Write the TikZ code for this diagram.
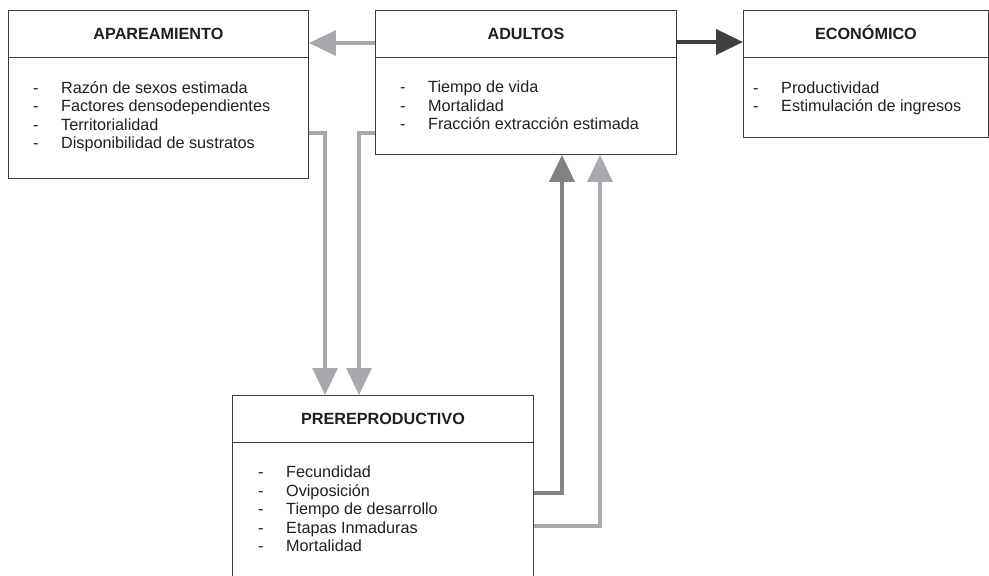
\documentclass[tikz,border=0pt]{standalone}
\usepackage{fontspec}
\setmainfont{Liberation Sans}
\usetikzlibrary{arrows.meta}
\definecolor{boxline}{HTML}{3C3C3C}
\definecolor{lightarrow}{HTML}{A7A9AC}
\definecolor{midarrow}{HTML}{808285}
\definecolor{darkarrow}{HTML}{3F3F40}
\definecolor{ink}{HTML}{231F20}
% one list entry: a dash, then the text in its own column
\newcommand{\itm}[1]{\makebox[28pt][l]{-}#1}
\tikzset{
  panel/.style={draw=boxline, line width=0.9pt, fill=white, anchor=north west, inner sep=0pt},
  divider/.style={draw=boxline, line width=0.9pt},
  title/.style={font=\fontsize{16.2}{18.5}\selectfont\bfseries, text=ink, anchor=base, inner sep=0pt},
  items/.style={font=\fontsize{16.2}{18.5}\selectfont, text=ink, anchor=base west, inner sep=0pt},
  flow/.style={line width=3.2pt, -{Triangle[length=27pt,width=25pt]}},
}
\begin{document}
\begin{tikzpicture}[x=1pt,y=-1pt]
\useasboundingbox (0,0) rectangle (989,576);
\clip (0,0) rectangle (989,576);

% boxes
\node[panel, minimum width=300pt, minimum height=168pt] (apa) at (8,10) {};
\node[panel, minimum width=301pt, minimum height=144pt] (adu) at (375,10) {};
\node[panel, minimum width=245pt, minimum height=127pt] (eco) at (743,10) {};
\node[panel, minimum width=301pt, minimum height=220pt] (pre) at (232,395) {};

% header dividers
\draw[divider] ([yshift=-47pt]apa.north west) -- ([yshift=-47pt]apa.north east);
\draw[divider] ([yshift=-47pt]adu.north west) -- ([yshift=-47pt]adu.north east);
\draw[divider] ([yshift=-47pt]eco.north west) -- ([yshift=-47pt]eco.north east);
\draw[divider] ([yshift=-47pt]pre.north west) -- ([yshift=-47pt]pre.north east);

% titles
\node[title] (apaT) at ([yshift=-29pt]apa.north) {APAREAMIENTO};
\node[title] (aduT) at ([yshift=-29pt]adu.north) {ADULTOS};
\node[title] (ecoT) at ([yshift=-29pt]eco.north) {ECONÓMICO};
\node[title] (preT) at ([yshift=-29pt]pre.north) {PREREPRODUCTIVO};

% item lists
\node[items] (apaL) at ([xshift=25pt,yshift=-83pt]apa.north west) {\begin{tabular}[t]{@{}l@{}}
\itm{Razón de sexos estimada}\\
\itm{Factores densodependientes}\\
\itm{Territorialidad}\\
\itm{Disponibilidad de sustratos}
\end{tabular}};
\node[items] (aduL) at ([xshift=25pt,yshift=-82.5pt]adu.north west) {\begin{tabular}[t]{@{}l@{}}
\itm{Tiempo de vida}\\
\itm{Mortalidad}\\
\itm{Fracción extracción estimada}
\end{tabular}};
\node[items] (ecoL) at ([xshift=10pt,yshift=-83pt]eco.north west) {\begin{tabular}[t]{@{}l@{}}
\itm{Productividad}\\
\itm{Estimulación de ingresos}
\end{tabular}};
\node[items] (preL) at ([xshift=26pt,yshift=-82.5pt]pre.north west) {\begin{tabular}[t]{@{}l@{}}
\itm{Fecundidad}\\
\itm{Oviposición}\\
\itm{Tiempo de desarrollo}\\
\itm{Etapas Inmaduras}\\
\itm{Mortalidad}
\end{tabular}};

% connectors
\draw[flow, lightarrow] ([yshift=-33pt]adu.north west) -- ([yshift=-33pt]apa.north east);
\draw[flow, darkarrow, line width=4pt] ([yshift=-32pt]adu.north east) -- ([yshift=-32pt]eco.north west);
\draw[flow, lightarrow] ([yshift=-123pt]apa.north east) -| ([xshift=93pt]pre.north west);
\draw[flow, lightarrow] ([yshift=-123pt]adu.north west) -| ([xshift=127pt]pre.north west);
\draw[flow, midarrow, line width=3.6pt] ([yshift=-98pt]pre.north east) -| ([xshift=187pt]adu.south west);
\draw[flow, lightarrow] ([yshift=-131pt]pre.north east) -| ([xshift=225pt]adu.south west);
\end{tikzpicture}
\end{document}
